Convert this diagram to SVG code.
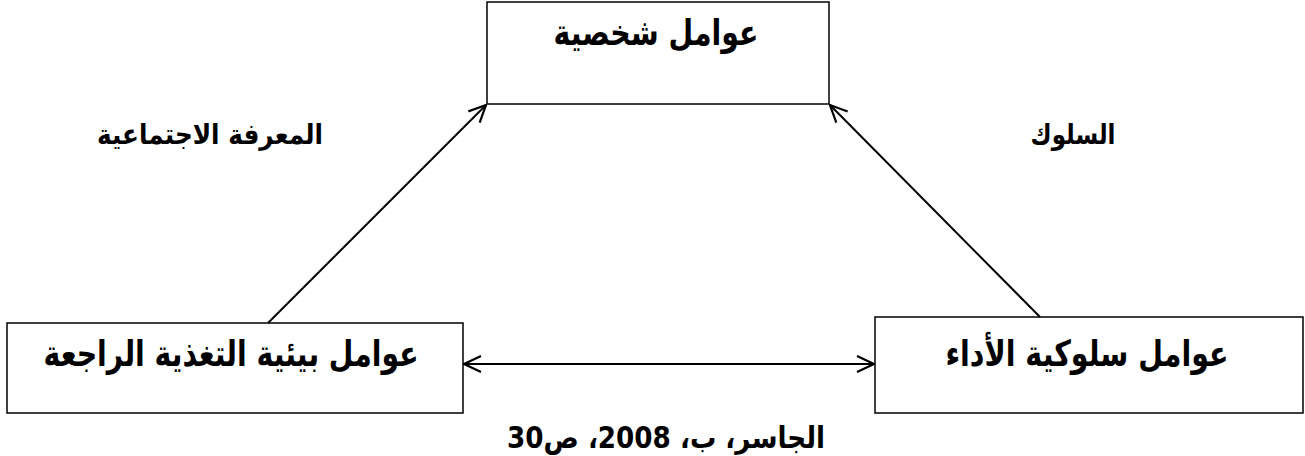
<svg xmlns="http://www.w3.org/2000/svg" width="1305" height="456" viewBox="0 0 1305 456">
<style>
.box{fill:#fff;stroke:#000;stroke-width:1.5}
.t{font-family:"DejaVu Sans",sans-serif;font-weight:bold;fill:#000;text-anchor:middle}
.c{stroke:#000;stroke-width:2;fill:none}
</style>
<defs>
<marker id="ah" viewBox="0 0 20 20" refX="19" refY="10" markerWidth="20" markerHeight="20" markerUnits="userSpaceOnUse" orient="auto-start-reverse">
<path d="M2,2 L19,10 L2,18" fill="none" stroke="#000" stroke-width="2.2"/>
</marker>
</defs>
<g id="node-top"><rect class="box" x="487" y="2" width="342" height="102"/><text class="t" x="656" y="45" font-size="36" direction="rtl" textLength="205" lengthAdjust="spacingAndGlyphs">عوامل شخصية</text></g>
<g id="node-left"><rect class="box" x="7" y="323" width="456" height="90"/><text class="t" x="231" y="366" font-size="36" direction="rtl" textLength="375" lengthAdjust="spacingAndGlyphs">عوامل بيئية التغذية الراجعة</text></g>
<g id="node-right"><rect class="box" x="875" y="317" width="428" height="96"/><text class="t" x="1087" y="366" font-size="36" direction="rtl" textLength="283" lengthAdjust="spacingAndGlyphs">عوامل سلوكية الأداء</text></g>
<g id="labels">
<text class="t" x="210" y="144" font-size="28" direction="rtl" textLength="226" lengthAdjust="spacingAndGlyphs">المعرفة الاجتماعية</text>
<text class="t" x="1073" y="144" font-size="28" direction="rtl" textLength="85" lengthAdjust="spacingAndGlyphs">السلوك</text>
<text class="t" x="666" y="448" font-size="30" direction="rtl" textLength="318" lengthAdjust="spacingAndGlyphs">الجاسر، ب، 2008، ص30</text>
</g>
<g id="connectors">
<line class="c" x1="268" y1="323" x2="486" y2="105" marker-end="url(#ah)"/>
<line class="c" x1="1040" y1="317" x2="830" y2="105" marker-end="url(#ah)"/>
<line class="c" x1="464" y1="364" x2="874" y2="364" marker-start="url(#ah)" marker-end="url(#ah)"/>
</g>
</svg>
